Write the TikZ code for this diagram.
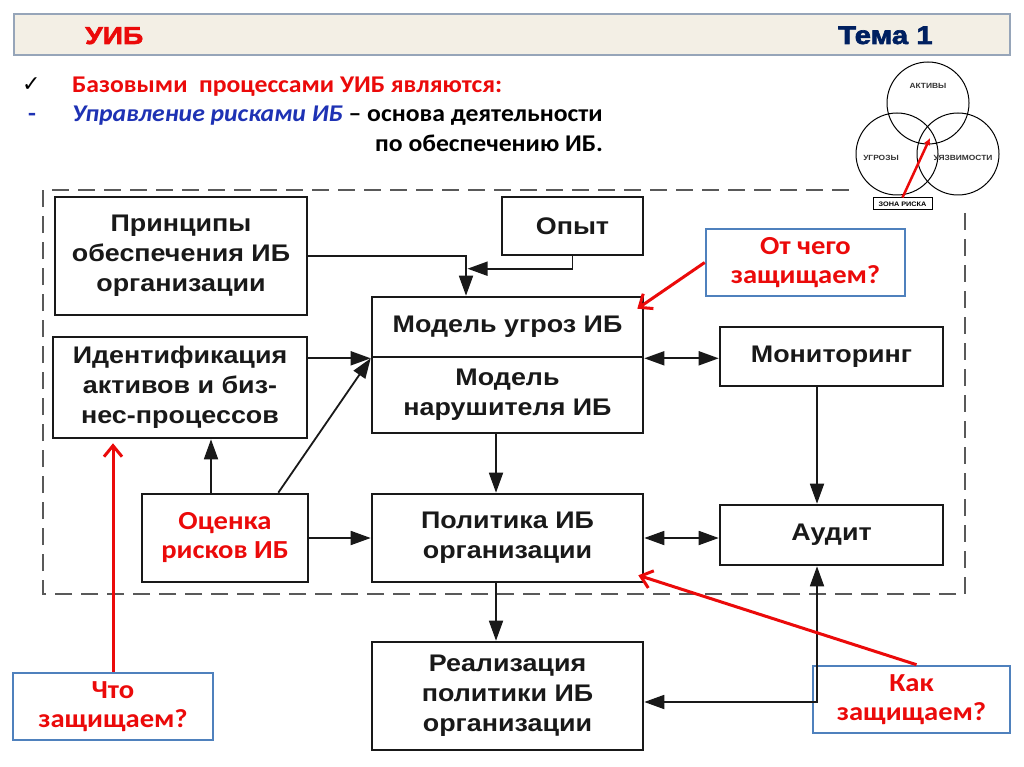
\documentclass[tikz,border=0pt]{standalone}
\usepackage{fontspec}
\setmainfont{Liberation Sans}[FakeStretch=1.12]
\newfontfamily\calfnt{Carlito}[FakeStretch=1.07]
\newfontfamily\qcalfnt{Carlito}[FakeStretch=1.1]
\newfontfamily\hdrfnt{Liberation Sans}[FakeStretch=1.15,FakeBold=2.5]
\newfontfamily\dvsfnt{DejaVu Sans}
\usetikzlibrary{arrows.meta}
\definecolor{redtxt}{RGB}{235,10,10}
\definecolor{bluetxt}{RGB}{30,50,180}
\definecolor{navytxt}{RGB}{0,32,96}
\definecolor{boxblue}{RGB}{79,129,189}
\definecolor{hdrfill}{RGB}{243,239,229}
\definecolor{hdrdraw}{RGB}{150,165,185}
\definecolor{ink}{RGB}{25,25,25}
\newcommand\boxfnt{\fontsize{24}{30}\selectfont\bfseries}
\newcommand\qfnt{\qcalfnt\fontsize{26}{29}\selectfont\bfseries}
\tikzset{
  blk/.style={draw=ink, line width=2.6pt, fill=white, inner sep=0pt, align=center, font=\boxfnt, text=ink},
  qbox/.style={draw=boxblue, line width=2.6pt, fill=white, inner sep=0pt, align=center, font=\qfnt, text=redtxt},
  arr/.style={draw=ink, line width=1.8pt, -{Triangle[length=20pt,width=14pt]}},
  arrb/.style={draw=ink, line width=1.8pt, {Triangle[length=20pt,width=14pt]}-{Triangle[length=20pt,width=14pt]}},
  rarr/.style={draw=redtxt, line width=3pt, -{Straight Barb[length=11pt,width=18pt,line width=3pt]}},
  bnd/.style={draw=black!65, line width=2pt, dash pattern=on 17pt off 9pt},
  vlab/.style={font=\fontsize{7.5}{8}\selectfont\bfseries, text=black!80, inner sep=0pt}
}
\begin{document}
\begin{tikzpicture}[x=1pt,y=-1pt]
\useasboundingbox (0,0) rectangle (1024,767);
\fill[white] (0,0) rectangle (1024,767);
% header
\node[draw=hdrdraw, fill=hdrfill, line width=1.5pt, minimum width=996pt, minimum height=41pt, inner sep=0pt] (hdr) at (512,34.5) {};
\node[anchor=base west, inner sep=0pt, text=redtxt, font=\hdrfnt\fontsize{24.5}{26}\selectfont\bfseries] (t1) at (85,44) {УИБ};
\node[anchor=base west, inner sep=0pt, text=navytxt, font=\hdrfnt\fontsize{25.5}{26}\selectfont\bfseries] (t2) at (838,44) {Тема 1};
% intro text
\node[anchor=base west, inner sep=0pt, font=\dvsfnt\fontsize{22}{24}\selectfont] (ck) at (22,92) {✓};
\node[anchor=base west, inner sep=0pt, text=redtxt, font=\calfnt\fontsize{24}{26}\selectfont\bfseries] (l1) at (72,93) {Базовыми\ \ процессами УИБ являются:};
\node[anchor=base west, inner sep=0pt, text=bluetxt, font=\calfnt\fontsize{24}{26}\selectfont\bfseries] (dsh) at (28,122) {-};
\node[anchor=base west, inner sep=0pt, font=\calfnt\fontsize{24}{26}\selectfont\bfseries] (l2) at (72,122) {\textcolor{bluetxt}{\itshape Управление рисками ИБ} – основа деятельности};
\node[anchor=base west, inner sep=0pt, font=\calfnt\fontsize{24}{26}\selectfont\bfseries] (l3) at (375,152) {по обеспечению ИБ.};
% dashed boundary
\draw[bnd] (965,213) -- (965,594) -- (43,594) -- (43,190) -- (850,190);
% venn
\draw[line width=1pt] (928,103) circle[radius=41];
\draw[line width=1pt] (897,154) circle[radius=41];
\draw[line width=1pt] (958,154) circle[radius=41];
\node[vlab] (va) at (928,86) {АКТИВЫ};
\node[vlab] (vu) at (881,158) {УГРОЗЫ};
\node[vlab] (vz) at (963,158) {УЯЗВИМОСТИ};
\node[draw, line width=1pt, fill=white, minimum width=59pt, minimum height=12pt, inner sep=0pt, font=\fontsize{6.5}{7}\selectfont\bfseries] (zr) at (902.5,204) {ЗОНА РИСКА};
\draw[draw=redtxt, line width=2.5pt, -{Latex[length=7pt,width=7pt]}] (zr.north) -- (930,138);
% boxes
\node[blk, minimum width=252pt, minimum height=118pt] (pr) at (181,256) {Принципы\\обеспечения ИБ\\организации};
\node[blk, minimum width=141pt, minimum height=58pt] (op) at (572.5,226) {Опыт};
\node[blk, minimum width=271pt, minimum height=60pt] (modA) at (507.5,327) {Модель угроз ИБ};
\node[blk, minimum width=271pt, minimum height=76pt] (modB) at (507.5,395) {Модель\\нарушителя ИБ};
\node[blk, minimum width=254pt, minimum height=101pt] (id) at (180,387.5) {Идентификация\\активов и биз-\\нес-процессов};
\node[blk, minimum width=223pt, minimum height=59pt] (mon) at (831.5,356.5) {Мониторинг};
\node[blk, minimum width=166pt, minimum height=88pt, font=\qfnt, text=redtxt] (oc) at (225,538) {Оценка\\рисков ИБ};
\node[blk, minimum width=271pt, minimum height=88pt] (pol) at (507.5,538) {Политика ИБ\\организации};
\node[blk, minimum width=223pt, minimum height=60pt] (aud) at (831.5,535) {Аудит};
\node[blk, minimum width=271pt, minimum height=108pt] (real) at (507.5,696) {Реализация\\политики ИБ\\организации};
% question boxes
\node[qbox, minimum width=199pt, minimum height=67pt] (q1) at (805.5,262.5) {От чего\\защищаем?};
\node[qbox, minimum width=200pt, minimum height=67pt] (q2) at (113,706.5) {Что\\защищаем?};
\node[qbox, minimum width=197pt, minimum height=67pt] (q3) at (911.5,699.5) {Как\\защищаем?};
% connectors
\draw[arr] (pr.east) -| ([xshift=-41.5pt]modA.north);
\draw[arr] (op.south) |- ([xshift=-40pt,yshift=27pt]modA.north);
\draw[arr] (id.east |- modA.south west) -- (modA.south west);
\draw[arr] ([xshift=-31pt]oc.north east) -- (modA.south west);
\draw[arr] ([xshift=-14pt]oc.north) -- ([xshift=-14pt]oc.north |- id.south);
\draw[arr] (oc.east) -- (pol.west);
\draw[arr] ([xshift=-11.5pt]modB.south) -- ([xshift=-11.5pt]pol.north);
\draw[arrb] (modA.south east) -- (modA.south east -| mon.west);
\draw[arr] ([xshift=-14.5pt]mon.south) -- ([xshift=-14.5pt]aud.north);
\draw[arrb] (pol.east) -- (pol.east -| aud.west);
\draw[arr] ([xshift=-11.5pt]pol.south) -- ([xshift=-11.5pt]real.north);
\draw[arrb] ([xshift=-14.5pt]aud.south) |- ([yshift=-6pt]real.east);
% red arrows
\draw[rarr] (q1.west) -- ([xshift=-7pt,yshift=-13pt]modA.north east);
\draw[rarr] (q2.north) -- ([yshift=-4pt]q2.north |- id.south);
\draw[rarr] ([xshift=5pt]q3.north) -- ([xshift=-6pt,yshift=8pt]pol.south east);
\end{tikzpicture}
\end{document}
